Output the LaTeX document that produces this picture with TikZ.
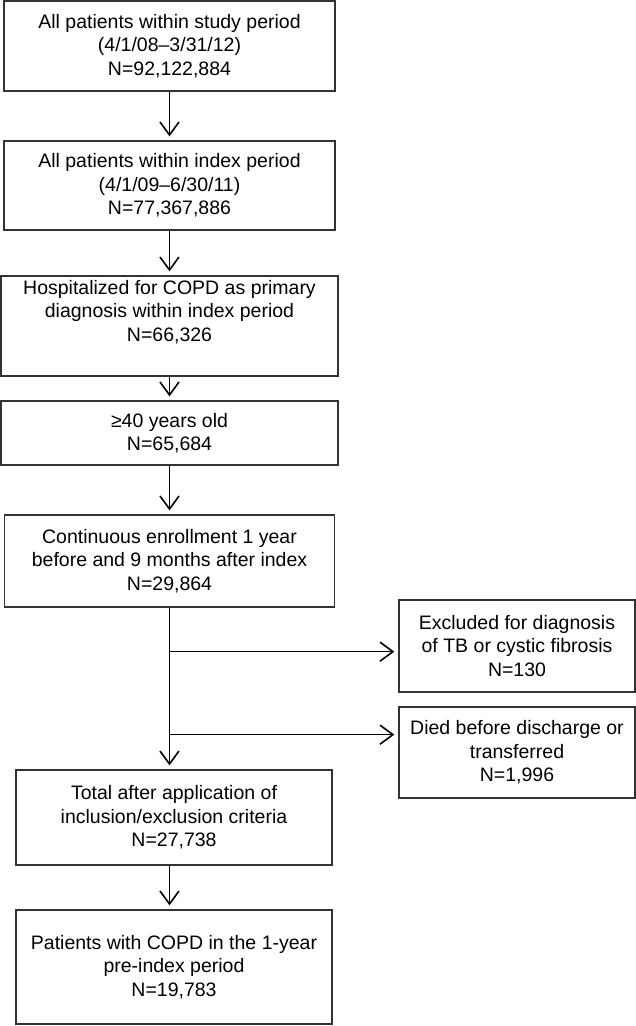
\documentclass[tikz,border=0pt]{standalone}
\usepackage{fontspec}
\setmainfont{Liberation Sans}
\usetikzlibrary{arrows.meta,calc}
\begin{document}
\begin{tikzpicture}[x=1pt,y=-1pt,
  box/.style={draw=black!80, line width=1.3pt, align=center, inner sep=0pt,
    font=\fontsize{19.5}{23.5}\selectfont},
  arr/.style={line width=1.6pt, draw=black,
    -{Straight Barb[length=13pt,width=19pt,line width=1.6pt]}, shorten >=4pt}]
\useasboundingbox (0,0) rectangle (636,1026);

\node[box, minimum width=331pt, minimum height=90pt] (b1) at (169.5,46)
  {All patients within study period\\(4/1/08–3/31/12)\\N=92,122,884};
\node[box, minimum width=331pt, minimum height=89pt] (b2) at (169.5,185.5)
  {All patients within index period\\(4/1/09–6/30/11)\\N=77,367,886};
\node[box, minimum width=337pt, minimum height=100pt] (b3) at (169.5,326)
  {Hospitalized for COPD as primary\\diagnosis within index period\\N=66,326\\\strut};
\node[box, minimum width=337pt, minimum height=64pt] (b4) at (169.5,433)
  {≥40 years old\\N=65,684};
\node[box, minimum width=330pt, minimum height=92pt] (b5) at (169.5,561)
  {Continuous enrollment 1 year\\before and 9 months after index\\N=29,864};
\node[box, minimum width=236pt, minimum height=92pt] (b6) at (517,646)
  {Excluded for diagnosis\\of TB or cystic fibrosis\\N=130};
\node[box, minimum width=236pt, minimum height=91pt] (b7) at (517,752.5)
  {Died before discharge or\\transferred\\N=1,996};
\node[box, minimum width=316pt, minimum height=95pt] (b8) at (174,817.5)
  {Total after application of\\inclusion/exclusion criteria\\N=27,738};
\node[box, minimum width=316pt, minimum height=114pt] (b9) at (174,967)
  {Patients with COPD in the 1-year\\pre-index period\\N=19,783};

\draw[arr] (b1.south) -- (b2.north);
\draw[arr] (b2.south) -- (b3.north);
\draw[arr] (b3.south) -- (b4.north);
\draw[arr] (b4.south) -- (b5.north);

\coordinate (j1) at ($(b5.south)+(0,44)$);
\coordinate (j2) at ($(b5.south)+(0,127)$);
\draw[arr] (b5.south) -- (b5.south |- b8.north);
\draw[arr] (j1) -- (j1 -| b6.west);
\draw[arr] (j2) -- (j2 -| b7.west);

\draw[arr] (b8.south -| b5.south) -- (b9.north -| b5.south);
\end{tikzpicture}
\end{document}
